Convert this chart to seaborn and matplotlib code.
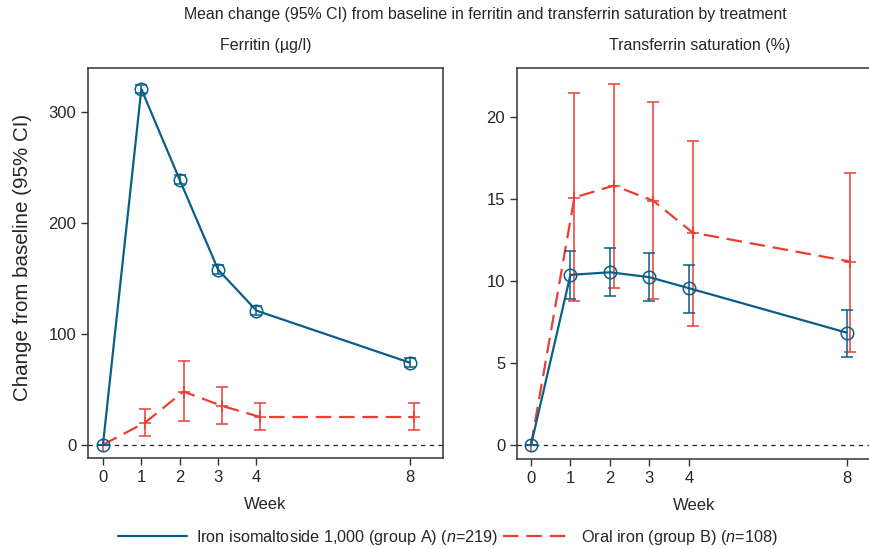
import numpy as np
import pandas as pd
import seaborn as sns
import matplotlib.pyplot as plt
from matplotlib.lines import Line2D

# values
weeks = np.array([0, 1, 2, 3, 4, 8])
week_ticks = [0, 1, 2, 3, 4, 8]

ferr_a = [0, 321, 239, 158, 121, 74]
ferr_a_lo = [0, 317, 235, 154, 117, 70]
ferr_a_hi = [0, 325, 243, 162, 125, 78]
ferr_b = [0, 20, 48, 35, 25, 25]
ferr_b_lo = [0, 8, 21.6, 18.6, 12.9, 13]
ferr_b_hi = [0, 32, 75.6, 52.5, 37.5, 37.5]

tsat_a = [0, 10.38, 10.54, 10.24, 9.57, 6.86]
tsat_a_lo = [0, 8.9, 9.1, 8.77, 8.08, 5.39]
tsat_a_hi = [0, 11.84, 12.0, 11.7, 10.97, 8.26]
tsat_b = [0, 15.1, 15.83, 14.9, 12.96, 11.19]
tsat_b_lo = [0, 8.77, 9.57, 8.9, 7.28, 5.7]
tsat_b_hi = [0, 21.5, 22.04, 20.92, 18.54, 16.62]

label_a = 'Iron isomaltoside 1,000 (group A) ($n$=219)'
label_b = 'Oral iron (group B) ($n$=108)'

sns.set_style('ticks')
plt.rcParams['font.family'] = ['Liberation Sans', 'DejaVu Sans']
plt.rcParams['mathtext.fontset'] = 'custom'
plt.rcParams['mathtext.it'] = 'Liberation Sans:italic'
plt.rcParams['mathtext.rm'] = 'Liberation Sans'

blue = '#0a5f87'
red = '#ee3d33'
offset = 0.1  # group B drawn slightly right of the week
weeks_b = np.where(weeks > 0, weeks + offset, weeks)

fig = plt.figure(figsize=(8.69, 5.48), dpi=100)
ax1 = fig.add_axes([88 / 869, 1 - 458 / 548, (443 - 88) / 869, (458 - 68) / 548])
ax2 = fig.add_axes([517 / 869, 1 - 459 / 548, (871 - 517) / 869, (459 - 68) / 548])


def panel(ax, a, alo, ahi, b, blo, bhi, xlim, ylim, yticks, title):
    ax.axhline(0, color='#222222', lw=0.9, ls=(0, (3.5, 3.5)), zorder=1)
    df_b = pd.DataFrame({'week': weeks_b, 'val': b})
    df_a = pd.DataFrame({'week': weeks, 'val': a})
    # red dashed group B
    ax.errorbar(weeks_b, b, yerr=[np.array(b) - np.array(blo), np.array(bhi) - np.array(b)],
                fmt='none', ecolor=red, elinewidth=1.1, capsize=4.5, capthick=1.1, zorder=2)
    sns.lineplot(data=df_b, x='week', y='val', ax=ax, color=red, lw=1.6,
                 dashes=False, sort=False, zorder=3)
    ax.lines[-1].set_dashes((7, 3.5))
    ax.plot(weeks_b, b, ls='none', marker='+', ms=9, mew=1.1, color=red, zorder=3)
    # blue solid group A
    ax.errorbar(weeks, a, yerr=[np.array(a) - np.array(alo), np.array(ahi) - np.array(a)],
                fmt='none', ecolor=blue, elinewidth=1.1, capsize=4.5, capthick=1.1, zorder=4)
    sns.lineplot(data=df_a, x='week', y='val', ax=ax, color=blue, lw=1.6,
                 marker='o', ms=9, mfc='none', mec=blue, mew=1.1, sort=False, zorder=5)
    ax.set_xlim(*xlim)
    ax.set_ylim(*ylim)
    ax.set_xticks(week_ticks)
    ax.set_yticks(yticks)
    ax.tick_params(labelsize=12, length=5, width=1, color='#333333', direction='out')
    ax.set_xlabel('Week', fontsize=12, labelpad=9)
    ax.set_ylabel('')
    ax.set_title(title, fontsize=11.5, pad=13)
    for s in ax.spines.values():
        s.set_visible(True)
        s.set_linewidth(1.1)
        s.set_color('#333333')


panel(ax1, ferr_a, ferr_a_lo, ferr_a_hi, ferr_b, ferr_b_lo, ferr_b_hi,
      (-0.39, 8.86), (-12, 340), [0, 100, 200, 300], 'Ferritin (µg/l)')
panel(ax2, tsat_a, tsat_a_lo, tsat_a_hi, tsat_b, tsat_b_lo, tsat_b_hi,
      (-0.355, 8.62), (-0.85, 23.0), [0, 5, 10, 15, 20], 'Transferrin saturation (%)')
ax2.spines['right'].set_visible(False)
ax2.title.set_x(0.517)

ax1.set_ylabel('Change from baseline (95% CI)', fontsize=14.8)
ax1.yaxis.set_label_coords(-0.158, 0.515)

fig.suptitle('Mean change (95% CI) from baseline in ferritin and transferrin saturation by treatment',
             fontsize=11.4, x=0.559, y=0.988)

handles = [Line2D([], [], color=blue, lw=1.6),
           Line2D([], [], color=red, lw=1.6, dashes=(7, 3.5))]
fig.legend(handles, [label_a, label_b], loc='center', bbox_to_anchor=(0.515, 0.019),
           ncol=2, frameon=False, fontsize=11.7, handlelength=4.3, handletextpad=0.5,
           columnspacing=0.3)

plt.savefig('out.png', dpi=100)
